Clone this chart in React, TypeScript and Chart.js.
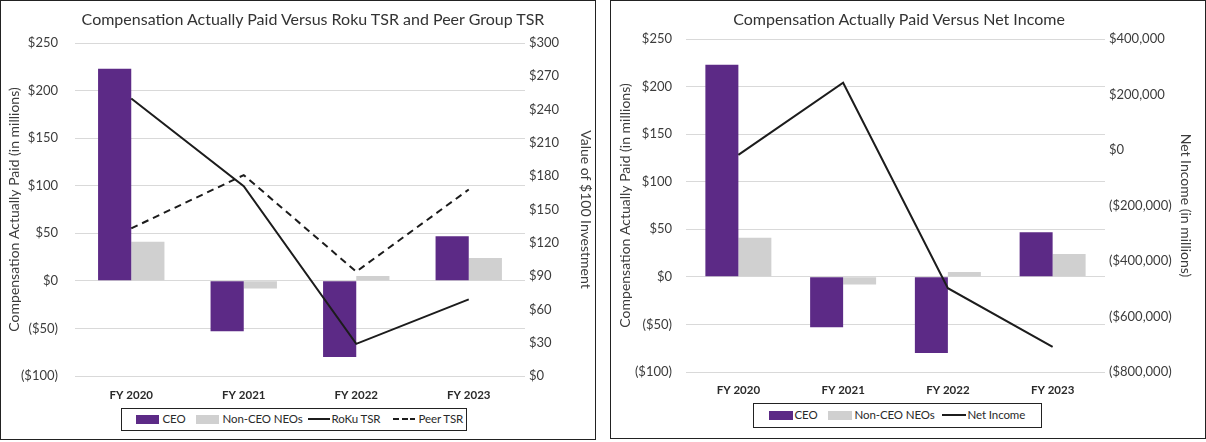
import React, { useEffect, useRef } from "react";
import { Chart, registerables } from "chart.js";

Chart.register(...registerables);

// ---------- data ----------
const categories = ["FY 2020", "FY 2021", "FY 2022", "FY 2023"];
const ceoCap = [223, -53, -80, 47];
const nonCeoCap = [41, -8, 5, 24];
const rokuTsr = [250, 171, 29, 69];
const peerTsr = [133, 181, 94, 168];
const netIncome = [-17507, 242385, -498006, -709561];

const capAxis = { min: -100, max: 250, step: 50 };
const tsrAxis = { min: 0, max: 300, step: 30 };
const incomeAxis = { min: -800000, max: 400000, step: 200000 };

const leftTitle = "Compensation Actually Paid Versus Roku TSR and Peer Group TSR";
const rightTitle = "Compensation Actually Paid Versus Net Income";
const capAxisTitle = "Compensation Actually Paid (in millions)";
const tsrAxisTitle = "Value of $100 Investment";
const incomeAxisTitle = "Net Income (in millions)";

// ---------- styles ----------
const FONT = "Lato, 'Open Sans', sans-serif";
const PURPLE = "#5C2A86";
const GRAY = "#D0D0D0";
const LINE = "#1c1c1c";
const TEXT = "#3c3c3c";
const GRID = "#d9d9d9";

const money = (v: number) => {
  const s = Math.abs(v).toLocaleString("en-US");
  return v < 0 ? `($${s})` : `$${s}`;
};

type Geo = {
  top: number;
  xHeight: number;
  leftW: number;
  rightW: number;
  leftPad: number;
  rightPad: number;
  leftTitlePad: number;
  rightTitlePad: number;
  xPad: number;
  catPct: number;
};

function buildConfig(kind: "tsr" | "income", g: Geo): any {
  const tickFont = { family: FONT, size: 13 };
  const titleFont = { family: FONT, size: 14 };
  const lineDatasets =
    kind === "tsr"
      ? [
          {
            type: "line",
            label: "RoKu TSR",
            data: rokuTsr,
            yAxisID: "y1",
            borderColor: LINE,
            borderWidth: 2,
            pointRadius: 0,
            fill: false,
            order: 0,
          },
          {
            type: "line",
            label: "Peer TSR",
            data: peerTsr,
            yAxisID: "y1",
            borderColor: LINE,
            borderWidth: 2,
            borderDash: [7, 5],
            pointRadius: 0,
            fill: false,
            order: 0,
          },
        ]
      : [
          {
            type: "line",
            label: "Net Income",
            data: netIncome,
            yAxisID: "y1",
            borderColor: LINE,
            borderWidth: 2,
            pointRadius: 0,
            fill: false,
            order: 0,
          },
        ];
  const right = kind === "tsr" ? tsrAxis : incomeAxis;
  return {
    type: "bar",
    data: {
      labels: categories,
      datasets: [
        ...lineDatasets,
        {
          type: "bar",
          label: "CEO",
          data: ceoCap,
          yAxisID: "y",
          backgroundColor: PURPLE,
          categoryPercentage: g.catPct,
          barPercentage: 1,
          order: 1,
        },
        {
          type: "bar",
          label: "Non-CEO NEOs",
          data: nonCeoCap,
          yAxisID: "y",
          backgroundColor: GRAY,
          categoryPercentage: g.catPct,
          barPercentage: 1,
          order: 1,
        },
      ],
    },
    options: {
      animation: false,
      responsive: false,
      layout: { padding: { top: g.top, left: 0, right: 0, bottom: 0 } },
      plugins: {
        legend: { display: false },
        title: { display: false },
        tooltip: { enabled: false },
      },
      scales: {
        x: {
          grid: { display: false, drawTicks: false },
          border: { display: false },
          ticks: {
            font: { family: FONT, size: 11.5, weight: "bold" },
            color: "#2a2a2a",
            padding: g.xPad,
          },
          afterFit: (s: any) => {
            s.height = g.xHeight;
          },
        },
        y: {
          position: "left",
          min: capAxis.min,
          max: capAxis.max,
          ticks: {
            stepSize: capAxis.step,
            callback: (v: any) => money(Number(v)),
            font: tickFont,
            color: TEXT,
            padding: g.leftPad,
          },
          grid: { color: GRID, lineWidth: 1, drawTicks: false },
          border: { display: false },
          title: {
            display: true,
            text: capAxisTitle,
            font: titleFont,
            color: TEXT,
            padding: { top: g.leftTitlePad, bottom: 0 },
          },
          afterFit: (s: any) => {
            s.width = g.leftW;
          },
        },
        y1: {
          position: "right",
          min: right.min,
          max: right.max,
          ticks: {
            stepSize: right.step,
            callback: (v: any) => money(Number(v)),
            font: tickFont,
            color: TEXT,
            padding: g.rightPad,
          },
          grid: { display: false, drawTicks: false },
          border: { display: false },
          title: {
            display: true,
            text: kind === "tsr" ? tsrAxisTitle : incomeAxisTitle,
            font: titleFont,
            color: TEXT,
            padding: { top: g.rightTitlePad, bottom: 0 },
          },
          afterFit: (s: any) => {
            s.width = g.rightW;
          },
        },
      },
    },
  };
}

function ChartCanvas({ kind, left, geo }: { kind: "tsr" | "income"; left: number; geo: Geo }) {
  const ref = useRef<HTMLCanvasElement>(null);
  useEffect(() => {
    if (!ref.current) return;
    const chart = new Chart(ref.current, buildConfig(kind, geo));
    return () => chart.destroy();
  }, []);
  return (
    <canvas
      ref={ref}
      width={600}
      height={442}
      style={{ position: "absolute", left, top: 0, width: 600, height: 442 }}
    />
  );
}

type LegendItem = { kind: "box" | "line" | "dash"; color?: string; x: number; w: number; textX: number; label: string };

function Legend({ left, top, width, height, items }: { left: number; top: number; width: number; height: number; items: LegendItem[] }) {
  const cy = height / 2;
  return (
    <div
      style={{
        position: "absolute",
        left,
        top,
        width,
        height,
        boxSizing: "border-box",
        border: "1.5px solid #222",
        background: "white",
      }}
    >
      {items.map((it, i) => {
        let sw: any;
        if (it.kind === "box") {
          sw = { position: "absolute", left: it.x - left - 1.5, top: cy - 4.5 - 1.5, width: it.w, height: 9, background: it.color };
        } else if (it.kind === "line") {
          sw = { position: "absolute", left: it.x - left - 1.5, top: cy - 1 - 1.5, width: it.w, height: 2, background: LINE };
        } else {
          sw = {
            position: "absolute",
            left: it.x - left - 1.5,
            top: cy - 1 - 1.5,
            width: it.w,
            height: 2,
            background: `repeating-linear-gradient(to right, ${LINE} 0 6px, transparent 6px 8.5px)`,
          };
        }
        return (
          <React.Fragment key={i}>
            <div style={sw} />
            <div
              style={{
                position: "absolute",
                left: it.textX - left - 1.5,
                top: 0,
                height: height - 3,
                lineHeight: `${height - 3}px`,
                fontFamily: FONT,
                fontSize: 11.5,
                letterSpacing: "-0.1px",
                color: "#2a2a2a",
                whiteSpace: "nowrap",
              }}
            >
              {it.label}
            </div>
          </React.Fragment>
        );
      })}
    </div>
  );
}

function Title({ cx, text }: { cx: number; text: string }) {
  return (
    <div
      style={{
        position: "absolute",
        left: cx,
        top: 9,
        transform: "translateX(-50%)",
        whiteSpace: "nowrap",
        fontFamily: FONT,
        fontSize: 16,
        lineHeight: "20px",
        color: "#333",
      }}
    >
      {text}
    </div>
  );
}

const leftGeo: Geo = {
  top: 43,
  xHeight: 66,
  leftW: 75,
  rightW: 75,
  leftPad: 17,
  rightPad: 4,
  leftTitlePad: 6,
  rightTitlePad: 6,
  xPad: 12,
  catPct: 0.59,
};

const rightGeo: Geo = {
  top: 39,
  xHeight: 70,
  leftW: 80,
  rightW: 101,
  leftPad: 14,
  rightPad: 4,
  leftTitlePad: 11,
  rightTitlePad: 12,
  xPad: 11,
  catPct: 0.63,
};

export default function App() {
  return (
    <div
      style={{
        position: "fixed",
        left: 0,
        top: 0,
        width: 1206,
        height: 442,
        background: "white",
        overflow: "hidden",
      }}
    >
      <ChartCanvas kind="tsr" left={0} geo={leftGeo} />
      <ChartCanvas kind="income" left={606} geo={rightGeo} />
      <Title cx={313} text={leftTitle} />
      <Title cx={899} text={rightTitle} />
      <Legend
        left={121}
        top={408}
        width={346}
        height={23}
        items={[
          { kind: "box", color: PURPLE, x: 136, w: 23, textX: 163, label: "CEO" },
          { kind: "box", color: GRAY, x: 196, w: 23, textX: 223, label: "Non-CEO NEOs" },
          { kind: "line", x: 308, w: 22, textX: 332, label: "RoKu TSR" },
          { kind: "dash", x: 393, w: 22, textX: 419, label: "Peer TSR" },
        ]}
      />
      <Legend
        left={753}
        top={403}
        width={289}
        height={25}
        items={[
          { kind: "box", color: PURPLE, x: 769, w: 24, textX: 795, label: "CEO" },
          { kind: "box", color: GRAY, x: 828, w: 24, textX: 855, label: "Non-CEO NEOs" },
          { kind: "line", x: 942, w: 24, textX: 968, label: "Net Income" },
        ]}
      />
      <div
        style={{
          position: "absolute",
          left: 0,
          top: 0,
          width: 596,
          height: 440,
          boxSizing: "border-box",
          border: "1.5px solid #222",
          pointerEvents: "none",
        }}
      />
      <div
        style={{
          position: "absolute",
          left: 610,
          top: 0,
          width: 596,
          height: 439,
          boxSizing: "border-box",
          border: "1.5px solid #222",
          pointerEvents: "none",
        }}
      />
    </div>
  );
}
